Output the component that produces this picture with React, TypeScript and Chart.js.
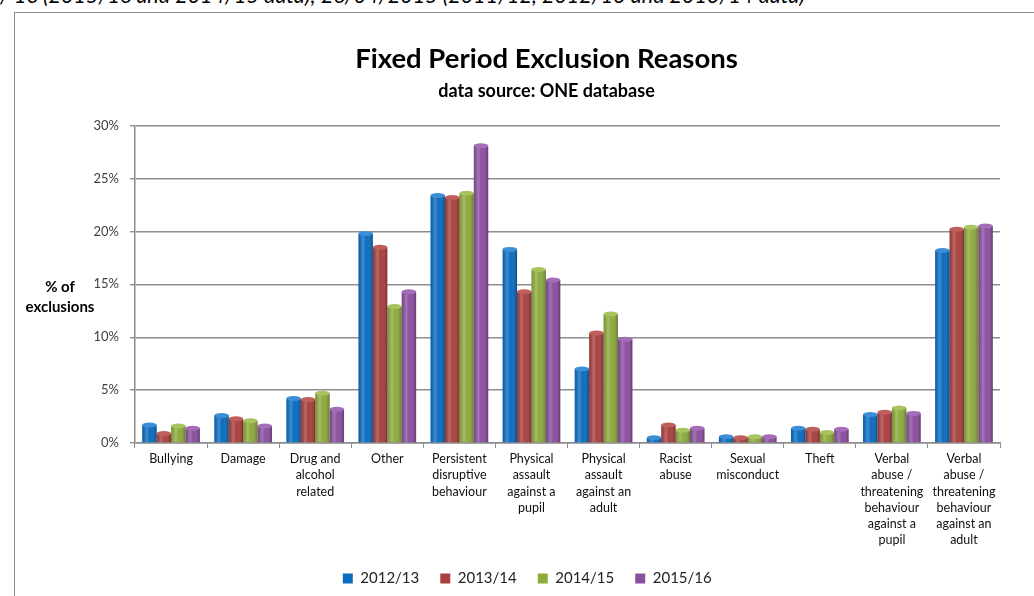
import React, { useEffect, useRef } from "react";
import { Chart, registerables } from "chart.js";

Chart.register(...registerables);

const categories: string[][] = [
  ["Bullying"],
  ["Damage"],
  ["Drug and", "alcohol", "related"],
  ["Other"],
  ["Persistent", "disruptive", "behaviour"],
  ["Physical", "assault", "against a", "pupil"],
  ["Physical", "assault", "against an", "adult"],
  ["Racist", "abuse"],
  ["Sexual", "misconduct"],
  ["Theft"],
  ["Verbal", "abuse /", "threatening", "behaviour", "against a", "pupil"],
  ["Verbal", "abuse /", "threatening", "behaviour", "against an", "adult"],
];

const seriesNames = ["2012/13", "2013/14", "2014/15", "2015/16"];
const y2012 = [1.7, 2.6, 4.2, 19.8, 23.4, 18.3, 7.0, 0.5, 0.6, 1.4, 2.7, 18.2];
const y2013 = [0.9, 2.3, 4.1, 18.5, 23.2, 14.3, 10.4, 1.7, 0.5, 1.3, 2.9, 20.2];
const y2014 = [1.6, 2.1, 4.7, 12.9, 23.6, 16.4, 12.2, 1.2, 0.6, 1.0, 3.3, 20.4];
const y2015 = [1.4, 1.6, 3.2, 14.3, 28.1, 15.4, 9.8, 1.4, 0.6, 1.3, 2.8, 20.5];
const seriesColors = ["#0A6CC0", "#A8403E", "#8DAA3E", "#8B4F9E"];
const capColors = ["#3C8FD6", "#C0605D", "#A8C45C", "#A56DB8"];

const yTicks = [0, 5, 10, 15, 20, 25, 30];
const yAxisTitle = ["% of", "exclusions"];
const chartTitle = "Fixed Period Exclusion Reasons";
const chartSubtitle = "data source: ONE database";
const noteText =
  "/ 16 (2015/16 and 2014/15 data); 26/04/2015 (2011/12, 2012/13 and 2013/14 data)";

const FONT = "Lato, 'Open Sans', sans-serif";

const cylinderPlugin = {
  id: "cylinder",
  afterDatasetsDraw(chart: any) {
    const ctx = chart.ctx;
    chart.data.datasets.forEach((ds: any, di: number) => {
      const meta = chart.getDatasetMeta(di);
      meta.data.forEach((bar: any) => {
        const { x, y, base, width } = bar.getProps(["x", "y", "base", "width"], true);
        const left = x - width / 2;
        const g = ctx.createLinearGradient(left, 0, left + width, 0);
        g.addColorStop(0, "rgba(0,0,0,0.12)");
        g.addColorStop(0.3, "rgba(255,255,255,0.22)");
        g.addColorStop(0.55, "rgba(255,255,255,0.0)");
        g.addColorStop(1, "rgba(0,0,0,0.28)");
        ctx.save();
        ctx.fillStyle = g;
        ctx.fillRect(left, y, width, base - y);
        ctx.beginPath();
        ctx.ellipse(x, y, width / 2, 2.5, 0, 0, Math.PI * 2);
        ctx.fillStyle = capColors[di];
        ctx.fill();
        ctx.restore();
      });
    });
  },
};

const yTitlePlugin = {
  id: "yTitle",
  afterDraw(chart: any) {
    const ctx = chart.ctx;
    const yScale = chart.scales.y;
    const mid = yScale.getPixelForValue(15);
    ctx.save();
    ctx.font = `bold 15px ${FONT}`;
    ctx.fillStyle = "#000";
    ctx.textAlign = "center";
    ctx.textBaseline = "middle";
    ctx.fillText(yAxisTitle[0], 45, mid + 3);
    ctx.fillText(yAxisTitle[1], 45, mid + 23);
    ctx.restore();
  },
};

function ChartBox() {
  const ref = useRef<HTMLCanvasElement | null>(null);
  useEffect(() => {
    if (!ref.current) return;
    const values = [y2012, y2013, y2014, y2015];
    const chart = new Chart(ref.current, {
      type: "bar",
      data: {
        labels: categories,
        datasets: seriesNames.map((name, i) => ({
          label: name,
          data: values[i],
          backgroundColor: seriesColors[i],
          borderWidth: 0,
          categoryPercentage: 0.8,
          barPercentage: 1.0,
        })),
      },
      options: {
        animation: false,
        responsive: false,
        maintainAspectRatio: false,
        layout: { padding: { left: 78, right: 34, top: 0, bottom: 0 } },
        plugins: {
          title: {
            display: true,
            text: chartTitle,
            color: "#000",
            font: { family: FONT, size: 27.5, weight: "bold" },
            padding: { top: 30, bottom: 1 },
          },
          subtitle: {
            display: true,
            text: chartSubtitle,
            color: "#000",
            font: { family: FONT, size: 18, weight: "bold" },
            padding: { top: 3, bottom: 24 },
          },
          legend: {
            position: "bottom",
            maxHeight: 48,
            labels: {
              boxWidth: 10,
              boxHeight: 10,
              padding: 21,
              color: "#222",
              font: { family: FONT, size: 15 },
              generateLabels(chart: any) {
                const items = Chart.defaults.plugins.legend.labels.generateLabels(chart);
                // transparent spacer keeps the row shifted left like the reference
                items.push({
                  text: "",
                  fillStyle: "rgba(0,0,0,0)",
                  strokeStyle: "rgba(0,0,0,0)",
                  lineWidth: 0,
                  hidden: false,
                  datasetIndex: -1,
                } as any);
                return items;
              },
            },
          },
          tooltip: { enabled: false },
        },
        scales: {
          x: {
            offset: true,
            grid: {
              display: true,
              drawOnChartArea: false,
              drawTicks: true,
              tickLength: 5,
              color: "#8c8c8c",
              offset: true,
            },
            border: { color: "#8c8c8c", width: 1.5 },
            ticks: {
              autoSkip: false,
              maxRotation: 0,
              minRotation: 0,
              padding: 3,
              color: "#111",
              font: { family: FONT, size: 12.5, lineHeight: 1.3 },
            },
            afterFit(scale: any) {
              scale.height = 107;
            },
          },
          y: {
            min: 0,
            max: 30,
            afterBuildTicks(scale: any) {
              scale.ticks = yTicks.map((v) => ({ value: v }));
            },
            ticks: {
              padding: 11,
              color: "#404040",
              font: { family: FONT, size: 13 },
              callback: (v: any) => `${v}%`,
            },
            grid: { color: "#8e8e8e", lineWidth: 1.4, tickLength: 5 },
            border: { color: "#8c8c8c", width: 1.5 },
            afterFit(scale: any) {
              scale.width = 42;
            },
          },
        },
      },
      plugins: [cylinderPlugin, yTitlePlugin],
    } as any);
    return () => chart.destroy();
  }, []);
  return (
    <canvas
      ref={ref}
      width={1019}
      height={583}
      style={{ position: "absolute", left: 15, top: 13, width: 1019, height: 583 }}
    />
  );
}

export default function App() {
  return (
    <div
      style={{
        position: "fixed",
        left: 0,
        top: 0,
        width: 1034,
        height: 596,
        overflow: "hidden",
        background: "#fff",
      }}
    >
      <div
        style={{
          position: "absolute",
          left: 0,
          top: -15,
          whiteSpace: "nowrap",
          fontFamily: FONT,
          fontStyle: "italic",
          fontSize: 21.5,
          lineHeight: "21.5px",
          color: "#000",
        }}
      >
        {noteText}
      </div>
      <div
        style={{
          position: "absolute",
          left: 14,
          top: 12,
          width: 1060,
          height: 620,
          border: "1.5px solid #8c8c8c",
          boxSizing: "border-box",
        }}
      />
      <ChartBox />
    </div>
  );
}
